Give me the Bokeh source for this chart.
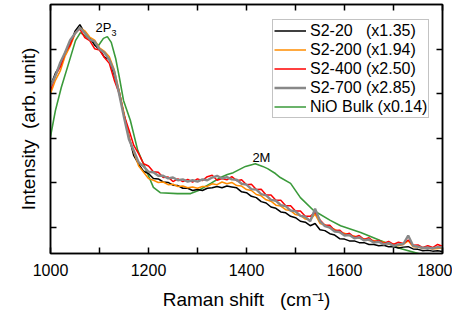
from bokeh.plotting import figure
from bokeh.models import Range1d, LinearAxis, FixedTicker, Legend, LegendItem
from bokeh.core.properties import value
from bokeh.embed import file_html
from bokeh.resources import INLINE

# ---- data ----
shift = list(range(1000, 1801, 10))

s2_20 = [3.18, 3.46, 3.64, 3.93, 4.10, 4.40, 4.55, 4.36, 4.26, 4.09,
         3.99, 3.82, 3.77, 3.42, 3.06, 2.53, 2.04, 1.61, 1.42, 1.26,
         1.21, 1.10, 1.09, 1.02, 1.01, 0.95, 0.94, 0.88, 0.88, 0.83,
         0.85, 0.83, 0.88, 0.89, 0.92, 0.89, 0.93, 0.91, 0.89, 0.80,
         0.78, 0.70, 0.67, 0.58, 0.55, 0.46, 0.43, 0.35, 0.33, 0.25,
         0.22, 0.14, 0.12, 0.04, 0.09, -0.05, -0.07, -0.14, -0.17, -0.25,
         -0.26, -0.30, -0.30, -0.34, -0.34, -0.38, -0.38, -0.41, -0.40, -0.43,
         -0.43, -0.46, -0.44, -0.43, -0.48, -0.49, -0.52, -0.51, -0.53, -0.52,
         -0.54]

s2_200 = [3.00, 3.30, 3.51, 3.85, 4.06, 4.34, 4.48, 4.41, 4.27, 4.20,
          4.03, 3.95, 3.83, 3.54, 3.06, 2.57, 2.03, 1.69, 1.38, 1.24,
          1.10, 1.06, 1.01, 1.02, 0.96, 0.97, 0.92, 0.93, 0.89, 0.91,
          0.88, 0.92, 0.92, 0.98, 0.96, 1.02, 0.98, 1.01, 0.94, 0.93,
          0.85, 0.83, 0.74, 0.71, 0.62, 0.59, 0.50, 0.48, 0.40, 0.38,
          0.29, 0.27, 0.19, 0.17, 0.30, 0.09, 0.06, -0.01, -0.04, -0.11,
          -0.13, -0.18, -0.19, -0.24, -0.25, -0.29, -0.29, -0.33, -0.33, -0.37,
          -0.37, -0.41, -0.38, -0.30, -0.43, -0.44, -0.47, -0.46, -0.48, -0.47,
          -0.46]

s2_400 = [3.08, 3.41, 3.60, 3.92, 4.09, 4.36, 4.45, 4.26, 4.19, 4.01,
          3.98, 3.81, 3.68, 3.31, 3.01, 2.52, 2.19, 1.84, 1.65, 1.43,
          1.38, 1.25, 1.24, 1.12, 1.13, 1.03, 1.09, 1.03, 1.08, 1.02,
          1.09, 1.05, 1.14, 1.17, 1.06, 1.10, 1.07, 1.14, 1.05, 1.07,
          0.96, 0.97, 0.85, 0.86, 0.73, 0.73, 0.61, 0.61, 0.49, 0.49,
          0.37, 0.37, 0.25, 0.25, 0.34, 0.17, 0.05, 0.05, -0.07, -0.06,
          -0.16, -0.13, -0.22, -0.18, -0.27, -0.23, -0.32, -0.29, -0.36, -0.31,
          -0.38, -0.33, -0.36, -0.28, -0.40, -0.39, -0.45, -0.41, -0.45, -0.38,
          -0.42]

s2_700 = [3.17, 3.40, 3.70, 3.93, 4.20, 4.35, 4.48, 4.36, 4.22, 4.17,
          4.00, 3.92, 3.76, 3.50, 3.00, 2.47, 1.98, 1.72, 1.46, 1.37,
          1.25, 1.24, 1.16, 1.16, 1.10, 1.12, 1.06, 1.08, 1.03, 1.06,
          1.03, 1.08, 1.06, 1.12, 1.16, 1.10, 1.13, 1.08, 1.07, 0.98,
          0.96, 0.86, 0.85, 0.75, 0.72, 0.62, 0.60, 0.50, 0.48, 0.38,
          0.36, 0.26, 0.24, 0.14, 0.42, 0.14, 0.03, 0.00, -0.09, -0.10,
          -0.18, -0.17, -0.24, -0.22, -0.29, -0.27, -0.34, -0.32, -0.38, -0.35,
          -0.41, -0.38, -0.37, -0.18, -0.41, -0.43, -0.46, -0.45, -0.47, -0.44,
          -0.45]

nio_shift = [1000, 1010, 1022, 1037, 1051, 1061, 1078, 1098, 1108, 1116, 1124, 1133,
             1141, 1149, 1163, 1178, 1198, 1210, 1224, 1259, 1286, 1302, 1327, 1347,
             1361, 1373, 1398, 1418, 1433, 1443, 1459, 1469, 1490, 1510, 1537, 1571,
             1592, 1633, 1673, 1714, 1749, 1760]
nio_bulk = [2.04, 2.62, 3.14, 3.68, 4.19, 4.37, 4.24, 4.08, 4.24, 4.28, 4.15, 3.79,
            3.34, 2.85, 2.40, 1.73, 1.21, 0.90, 0.78, 0.76, 0.76, 0.83, 0.99, 1.12,
            1.19, 1.23, 1.37, 1.43, 1.37, 1.32, 1.21, 1.12, 0.99, 0.67, 0.38, 0.16,
            0.04, -0.11, -0.29, -0.47, -0.58, -0.62]

labels = ["S2-20\u00a0\u00a0\u00a0(x1.35)", "S2-200 (x1.94)", "S2-400 (x2.50)",
          "S2-700 (x2.85)", "NiO Bulk (x0.14)"]
x_ticks = [1000, 1100, 1200, 1300, 1400, 1500, 1600, 1700, 1800]
x_tick_labels = {1000: "1000", 1100: "", 1200: "1200", 1300: "", 1400: "1400",
                 1500: "", 1600: "1600", 1700: "", 1800: "1800"}
y_ticks = [0, 1, 2, 3, 4]

FONT = "Liberation Sans"

p = figure(frame_width=392, frame_height=249, output_backend="svg",
           toolbar_location=None, x_range=Range1d(1000, 1800),
           y_range=Range1d(-0.583, 5.0), min_border_left=50, min_border_top=4,
           min_border_right=10, background_fill_color="white")
p.grid.visible = False
p.outline_line_color = "black"
p.outline_line_width = 1.5

r_green = p.line(nio_shift, nio_bulk, line_color="#3a9a3a", line_width=1.6)
r_black = p.line(shift, s2_20, line_color="black", line_width=1.5)
r_orange = p.line(shift, s2_200, line_color="#ff8c00", line_width=1.5)
r_red = p.line(shift, s2_400, line_color="#ff0000", line_width=1.5)
r_gray = p.line(shift, s2_700, line_color="#888888", line_width=2.4)

# annotations
p.text(x=[1092], y=[4.48], text=["2P"], text_font=value(FONT), text_font_size="13px",
       text_color="black", text_baseline="alphabetic", text_align="left")
p.text(x=[1124.5], y=[4.37], text=["3"], text_font=value(FONT), text_font_size="9px",
       text_color="black", text_baseline="alphabetic", text_align="left")
p.text(x=[1412], y=[1.57], text=["2M"], text_font=value(FONT), text_font_size="13px",
       text_color="black", text_baseline="alphabetic", text_align="left")

def style_axis(ax, ticks, overrides=None, show_labels=True):
    ax.ticker = FixedTicker(ticks=ticks)
    ax.major_tick_in = 6
    ax.major_tick_out = 0
    ax.minor_tick_in = 0
    ax.minor_tick_out = 0
    ax.axis_line_width = 1.5
    ax.major_tick_line_width = 1.5
    ax.axis_line_color = "black"
    ax.major_tick_line_color = "black"
    ax.major_label_text_font = FONT
    ax.major_label_text_color = "black"
    ax.axis_label_text_font = FONT
    ax.axis_label_text_font_style = "normal"
    ax.axis_label_text_color = "black"
    if overrides:
        ax.major_label_overrides = overrides
    if not show_labels:
        ax.major_label_text_font_size = "1px"
        ax.major_label_text_color = None
        ax.major_label_standoff = 0
        ax.axis_label_standoff = 0

xa = p.xaxis[0]
style_axis(xa, x_ticks, x_tick_labels)
xa.major_label_text_font_size = "16px"
xa.major_label_standoff = 10
xa.axis_label = "Raman shift\u00a0\u00a0\u00a0(cm\u207b\u00b9)"
xa.axis_label_text_font_size = "19px"
xa.axis_label_standoff = 10

ya = p.yaxis[0]
style_axis(ya, y_ticks, show_labels=False)
ya.axis_label = "Intensity\u00a0\u00a0(arb. unit)"
ya.axis_label_text_font_size = "19px"
ya.axis_label_standoff = 12

top = LinearAxis()
style_axis(top, x_ticks, show_labels=False)
p.add_layout(top, "above")
right = LinearAxis()
style_axis(right, y_ticks, show_labels=False)
p.add_layout(right, "right")

legend = Legend(items=[LegendItem(label=labels[0], renderers=[r_black]),
                       LegendItem(label=labels[1], renderers=[r_orange]),
                       LegendItem(label=labels[2], renderers=[r_red]),
                       LegendItem(label=labels[3], renderers=[r_gray]),
                       LegendItem(label=labels[4], renderers=[r_green])],
                location=(222, 135))
legend.label_text_font = FONT
legend.label_text_font_size = "16px"
legend.label_text_color = "black"
legend.label_height = 19
legend.glyph_height = 19
legend.glyph_width = 32
legend.label_standoff = 4
legend.spacing = 0
legend.padding = 1
legend.margin = 0
legend.border_line_color = "#888888"
legend.border_line_width = 1
legend.background_fill_alpha = 1.0
p.add_layout(legend, "center")

open("out.html", "w").write(file_html(p, INLINE))
